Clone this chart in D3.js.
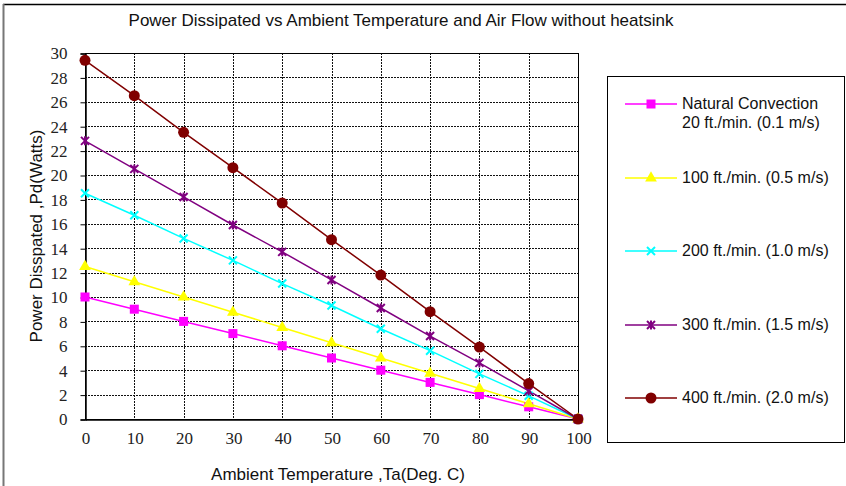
<!DOCTYPE html>
<html>
<head>
<meta charset="utf-8">
<script src="https://cdn.jsdelivr.net/npm/d3@7"></script>
<style>
  body { margin: 0; background: #fff; }
  svg { display: block; }
</style>
</head>
<body>
<script>
const temps = [0, 10, 20, 30, 40, 50, 60, 70, 80, 90, 100];
const natural = [10, 9, 8, 7, 6, 5, 4, 3, 2, 1, 0];
const flow100 = [12.5, 11.25, 10, 8.75, 7.5, 6.25, 5, 3.75, 2.5, 1.25, 0];
const flow200 = [18.5, 16.7, 14.8, 13, 11.1, 9.3, 7.4, 5.6, 3.7, 1.9, 0];
const flow300 = [22.8, 20.5, 18.2, 15.9, 13.7, 11.4, 9.1, 6.8, 4.6, 2.3, 0];
const flow400 = [29.4, 26.5, 23.5, 20.6, 17.7, 14.7, 11.8, 8.8, 5.9, 2.9, 0];
const seriesNames = [
  ['Natural Convection', '20 ft./min. (0.1 m/s)'],
  ['100 ft./min. (0.5 m/s)'],
  ['200 ft./min. (1.0 m/s)'],
  ['300 ft./min. (1.5 m/s)'],
  ['400 ft./min. (2.0 m/s)']
];
const xTicks = [0, 10, 20, 30, 40, 50, 60, 70, 80, 90, 100];
const yTicks = [0, 2, 4, 6, 8, 10, 12, 14, 16, 18, 20, 22, 24, 26, 28, 30];

const main = () => {
  const width = 846;
  const height = 486;
  const plot = { left: 85, right: 578, top: 53, bottom: 419 };
  const serif = '"Liberation Serif", "Times New Roman", Times, serif';
  const sans = 'Arial, "Liberation Sans", sans-serif';

  const svg = d3.select('body').append('svg').attr('width', width).attr('height', height);

  // outer frame (top and left edges visible)
  svg.append('line').attr('x1', 3).attr('x2', width).attr('y1', 4.5).attr('y2', 4.5)
    .attr('stroke', '#000').attr('stroke-width', 1.5);
  svg.append('line').attr('x1', 3.5).attr('x2', 3.5).attr('y1', 4).attr('y2', height)
    .attr('stroke', '#777').attr('stroke-width', 2);

  const x = d3.scaleLinear().domain([0, 100]).range([plot.left, plot.right]);
  const y = d3.scaleLinear().domain([0, 30]).range([plot.bottom, plot.top]);

  // grid
  const grid = svg.append('g').attr('class', 'grid');
  grid.selectAll('line.h').data(yTicks.slice(1, -1)).join('line')
    .attr('class', 'h')
    .attr('x1', plot.left).attr('x2', plot.right)
    .attr('y1', (d) => Math.round(y(d)) + 0.5).attr('y2', (d) => Math.round(y(d)) + 0.5)
    .attr('stroke', '#111').attr('stroke-dasharray', '2,1');
  grid.selectAll('line.v').data(xTicks.slice(1, -1)).join('line')
    .attr('class', 'v')
    .attr('y1', plot.top).attr('y2', plot.bottom)
    .attr('x1', (d) => Math.round(x(d)) + 0.5).attr('x2', (d) => Math.round(x(d)) + 0.5)
    .attr('stroke', '#111').attr('stroke-dasharray', '2,1');

  // plot border
  svg.append('rect')
    .attr('x', plot.left + 0.5).attr('y', plot.top + 0.5)
    .attr('width', plot.right - plot.left).attr('height', plot.bottom - plot.top)
    .attr('fill', 'none').attr('stroke', '#000');

  // axes
  const yAxis = svg.append('g')
    .attr('transform', `translate(${plot.left + 0.5},0.5)`)
    .call(d3.axisLeft(y).tickValues(yTicks).tickSize(5).tickPadding(13));
  const xAxis = svg.append('g')
    .attr('transform', `translate(0.5,${plot.bottom + 0.5})`)
    .call(d3.axisBottom(x).tickValues(xTicks).tickSize(0).tickPadding(12));
  [xAxis, yAxis].forEach((g) => {
    g.attr('font-family', serif).attr('font-size', 17);
    g.select('.domain').attr('stroke', '#000').attr('stroke-width', 1.5);
    g.selectAll('.tick line').attr('stroke', '#000');
    g.selectAll('text').attr('fill', '#222').attr('font-family', serif);
  });

  const series = [
    { values: natural, color: '#ff00ff', marker: 'square' },
    { values: flow100, color: '#ffff00', marker: 'triangle' },
    { values: flow200, color: '#00ffff', marker: 'cross' },
    { values: flow300, color: '#800080', marker: 'star' },
    { values: flow400, color: '#800000', marker: 'circle' }
  ];

  const drawMarker = (g, type, color) => {
    if (type === 'square') {
      g.append('rect').attr('x', -4.5).attr('y', -4.5)
        .attr('width', 9).attr('height', 9).attr('fill', color);
    } else if (type === 'triangle') {
      g.append('path').attr('d', d3.symbol(d3.symbolTriangle, 60)()).attr('fill', color);
    } else if (type === 'cross') {
      g.append('path').attr('d', 'M-4,-4L4,4M-4,4L4,-4')
        .attr('stroke', color).attr('stroke-width', 2);
    } else if (type === 'star') {
      g.append('path').attr('d', 'M-4,-4L4,4M-4,4L4,-4M0,-4.5L0,4.5')
        .attr('stroke', color).attr('stroke-width', 2);
    } else {
      g.append('circle').attr('r', 5.5).attr('fill', color);
    }
  };

  const line = d3.line().x((d) => x(d[0])).y((d) => y(d[1]));
  series.forEach((s) => {
    const pts = temps.map((t, i) => [t, s.values[i]]);
    svg.append('path').datum(pts).attr('d', line)
      .attr('fill', 'none').attr('stroke', s.color).attr('stroke-width', 1.5);
  });
  series.forEach((s) => {
    temps.forEach((t, i) => {
      const g = svg.append('g').attr('transform', `translate(${x(t)},${y(s.values[i])})`);
      drawMarker(g, s.marker, s.color);
    });
  });

  // titles
  svg.append('text').attr('x', 401).attr('y', 26).attr('text-anchor', 'middle')
    .attr('font-family', sans).attr('font-size', 17).attr('fill', '#111')
    .text('Power Dissipated vs Ambient Temperature and Air Flow without heatsink');
  svg.append('text').attr('x', 338).attr('y', 480).attr('text-anchor', 'middle')
    .attr('font-family', sans).attr('font-size', 17).attr('fill', '#111')
    .text('Ambient Temperature ,Ta(Deg. C)');
  svg.append('text').attr('transform', 'translate(42,236) rotate(-90)').attr('text-anchor', 'middle')
    .attr('font-family', sans).attr('font-size', 17).attr('fill', '#111')
    .text('Power Disspated ,Pd(Watts)');

  // legend
  const legend = svg.append('g');
  legend.append('rect').attr('x', 607.5).attr('y', 76.5).attr('width', 237).attr('height', 366)
    .attr('fill', '#fff').attr('stroke', '#000');
  const legendY = [104, 178, 251, 325, 398];
  series.forEach((s, i) => {
    const g = legend.append('g').attr('transform', `translate(0,${legendY[i]})`);
    g.append('line').attr('x1', 625).attr('x2', 677).attr('stroke', s.color).attr('stroke-width', 1.5);
    const m = g.append('g').attr('transform', 'translate(651,0)');
    drawMarker(m, s.marker, s.color);
    seriesNames[i].forEach((txt, j) => {
      g.append('text').attr('x', 682).attr('y', 5 + j * 19)
        .attr('font-family', sans).attr('font-size', 16).attr('fill', '#111').text(txt);
    });
  });
};

main();
</script>
</body>
</html>
